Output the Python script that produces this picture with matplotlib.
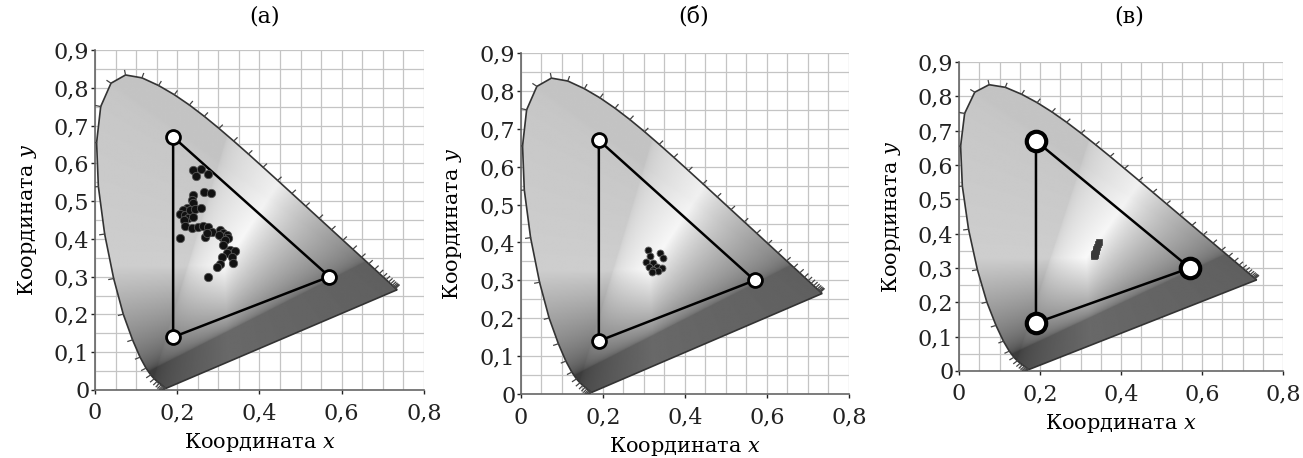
import numpy as np
import matplotlib
matplotlib.use("Agg")
import matplotlib.pyplot as plt
from matplotlib.patches import Polygon

# CIE 1931 spectral locus, 380..700 nm (5 nm steps, last three 10 nm)
locus_x = [0.1741, 0.1740, 0.1738, 0.1736, 0.1733, 0.1730, 0.1726, 0.1721, 0.1714, 0.1703,
           0.1689, 0.1669, 0.1644, 0.1611, 0.1566, 0.1510, 0.1440, 0.1355, 0.1241, 0.1096,
           0.0913, 0.0687, 0.0454, 0.0235, 0.0082, 0.0039, 0.0139, 0.0389, 0.0743, 0.1142,
           0.1547, 0.1929, 0.2296, 0.2658, 0.3016, 0.3373, 0.3731, 0.4087, 0.4441, 0.4788,
           0.5125, 0.5448, 0.5752, 0.6029, 0.6270, 0.6482, 0.6658, 0.6801, 0.6915, 0.7006,
           0.7079, 0.7140, 0.7190, 0.7230, 0.7260, 0.7283, 0.7300, 0.7311, 0.7320, 0.7334,
           0.7344, 0.7347]
locus_y = [0.0050, 0.0050, 0.0049, 0.0049, 0.0048, 0.0048, 0.0048, 0.0048, 0.0051, 0.0058,
           0.0069, 0.0086, 0.0109, 0.0138, 0.0177, 0.0227, 0.0297, 0.0399, 0.0578, 0.0868,
           0.1327, 0.2007, 0.2950, 0.4127, 0.5384, 0.6548, 0.7502, 0.8120, 0.8338, 0.8262,
           0.8059, 0.7816, 0.7543, 0.7243, 0.6923, 0.6589, 0.6245, 0.5896, 0.5547, 0.5202,
           0.4866, 0.4544, 0.4242, 0.3965, 0.3725, 0.3514, 0.3340, 0.3197, 0.3083, 0.2993,
           0.2920, 0.2859, 0.2809, 0.2770, 0.2740, 0.2717, 0.2700, 0.2689, 0.2680, 0.2666,
           0.2656, 0.2653]

# triangle of primaries
prim_x = [0.19, 0.57, 0.19]
prim_y = [0.67, 0.30, 0.14]

# (а) measured points
a_x = [0.239, 0.257, 0.246, 0.276, 0.266, 0.282, 0.239, 0.235, 0.239, 0.223,
       0.215, 0.207, 0.219, 0.231, 0.242, 0.258, 0.227, 0.239, 0.216, 0.219,
       0.235, 0.251, 0.263, 0.276, 0.268, 0.284, 0.272, 0.207, 0.304, 0.312,
       0.320, 0.308, 0.324, 0.302, 0.316, 0.312, 0.328, 0.340, 0.320, 0.308,
       0.332, 0.335, 0.304, 0.297, 0.274]
a_y = [0.582, 0.584, 0.566, 0.572, 0.525, 0.522, 0.516, 0.503, 0.494, 0.481,
       0.476, 0.466, 0.463, 0.476, 0.478, 0.481, 0.454, 0.457, 0.450, 0.434,
       0.428, 0.432, 0.434, 0.431, 0.406, 0.419, 0.415, 0.403, 0.424, 0.415,
       0.410, 0.406, 0.401, 0.410, 0.397, 0.384, 0.371, 0.369, 0.362, 0.353,
       0.351, 0.337, 0.334, 0.326, 0.298]

# (б) measured points
b_x = [0.311, 0.316, 0.339, 0.346, 0.305, 0.323, 0.313, 0.331, 0.343, 0.323, 0.335, 0.319]
b_y = [0.380, 0.364, 0.371, 0.358, 0.348, 0.345, 0.336, 0.336, 0.332, 0.327, 0.325, 0.323]

# (в) measured points
c_x = [0.345, 0.343, 0.341, 0.339, 0.337, 0.335, 0.333, 0.336, 0.334]
c_y = [0.376, 0.369, 0.362, 0.355, 0.349, 0.344, 0.340, 0.337, 0.334]

x_ticks = [0, 0.2, 0.4, 0.6, 0.8]
x_tick_labels = ["0", "0,2", "0,4", "0,6", "0,8"]
y_ticks = [0, 0.1, 0.2, 0.3, 0.4, 0.5, 0.6, 0.7, 0.8, 0.9]
y_tick_labels = ["0", "0,1", "0,2", "0,3", "0,4", "0,5", "0,6", "0,7", "0,8", "0,9"]
titles = ["(а)", "(б)", "(в)"]

plt.rcParams["font.family"] = ["DejaVu Serif"]
plt.rcParams["mathtext.fontset"] = "dejavuserif"


def gray_field(n=400):
    # grayscale rendering of the chromaticity colours
    gx, gy = np.meshgrid(np.linspace(0, 0.8, n), np.linspace(0, 0.9, n))
    yy = np.clip(gy, 1e-3, None)
    X = gx / yy
    Z = (1 - gx - gy) / yy
    M = np.array([[3.2406, -1.5372, -0.4986],
                  [-0.9689, 1.8758, 0.0415],
                  [0.0557, -0.2040, 1.0570]])
    xyz = np.stack([X, np.ones_like(X), Z])
    rgb = np.tensordot(M, xyz, axes=1)
    rgb = np.clip(rgb, 0, None)
    rgb = rgb / np.clip(rgb.max(axis=0), 1e-6, None)
    rgb = rgb ** (1 / 2.2)
    val = 0.22 * rgb[0] + 0.73 * rgb[1] + 0.05 * rgb[2]
    return 0.2 + 0.78 * val


field = gray_field()


def draw_panel(ax, px, py, style, vsize, vedge):
    ax.set_xlim(0, 0.8)
    ax.set_ylim(0, 0.9)
    ax.set_xticks(x_ticks)
    ax.set_xticklabels(x_tick_labels)
    ax.set_yticks(y_ticks)
    ax.set_yticklabels(y_tick_labels)
    ax.set_xticks(np.arange(0, 0.81, 0.05), minor=True)
    ax.set_yticks(np.arange(0, 0.91, 0.05), minor=True)
    ax.grid(which="both", color="#c4c4c4", lw=0.9)
    ax.set_axisbelow(True)
    ax.tick_params(which="minor", length=0)
    ax.tick_params(which="major", labelsize=16, colors="#222", length=3, width=1)
    ax.tick_params(axis="x", pad=6)
    ax.tick_params(axis="y", pad=1)
    for s in ["top", "right"]:
        ax.spines[s].set_visible(False)
    for s in ["left", "bottom"]:
        ax.spines[s].set_color("#666")
        ax.spines[s].set_linewidth(1.2)

    pts = np.column_stack([locus_x, locus_y])
    poly = Polygon(pts, closed=True, facecolor="none", edgecolor="#333", lw=1.2, zorder=3)
    ax.add_patch(poly)
    im = ax.imshow(field, extent=[0, 0.8, 0, 0.9], origin="lower", cmap="gray",
                   vmin=0, vmax=1, aspect="auto", zorder=2, interpolation="bilinear")
    im.set_clip_path(poly)

    # wavelength ticks on the locus
    cx, cy = 0.33, 0.33
    for i in range(8, len(pts) - 4):
        t = pts[i + 1] - pts[i - 1]
        nrm = np.array([-t[1], t[0]])
        nrm = nrm / np.hypot(*nrm)
        if np.dot(nrm, pts[i] - [cx, cy]) < 0:
            nrm = -nrm
        q = pts[i] + nrm * 0.012
        ax.plot([pts[i][0], q[0]], [pts[i][1], q[1]], color="#444", lw=0.9, zorder=3)

    tx = prim_x + prim_x[:1]
    ty = prim_y + prim_y[:1]
    ax.plot(tx, ty, color="black", lw=1.8, zorder=4)
    ax.plot(px, py, zorder=5, ls="none", **style)
    ax.plot(prim_x, prim_y, ls="none", marker="o", ms=vsize, mfc="white", mec="black",
            mew=vedge, zorder=6)

    ax.set_xlabel("Координата $x$", fontsize=15, labelpad=5)
    ax.set_ylabel("Координата $y$", fontsize=15, labelpad=11)


fig = plt.figure(figsize=(13.03, 4.58), dpi=100)
positions = [[0.0729, 0.1485, 0.2525, 0.7424],
             [0.3998, 0.1397, 0.2517, 0.7445],
             [0.7360, 0.1900, 0.2487, 0.6747]]
styles = [dict(marker="o", ms=6, mfc="#111", mec="#555", mew=0.6),
          dict(marker="o", ms=5, mfc="#111", mec="#666", mew=0.6),
          dict(marker="s", ms=4.5, mfc="#3a3a3a", mec="#3a3a3a", mew=0.5)]
vsizes = [10, 10, 14]
vedges = [2.0, 2.0, 3.0]
data = [(a_x, a_y), (b_x, b_y), (c_x, c_y)]
title_x = [265, 694, 1129]

for k in range(3):
    ax = fig.add_axes(positions[k])
    draw_panel(ax, data[k][0], data[k][1], styles[k], vsizes[k], vedges[k])
    fig.text(title_x[k] / 1303, 1 - 17 / 458, titles[k], fontsize=16, ha="center", va="center")

fig.savefig("out.png", dpi=100)
